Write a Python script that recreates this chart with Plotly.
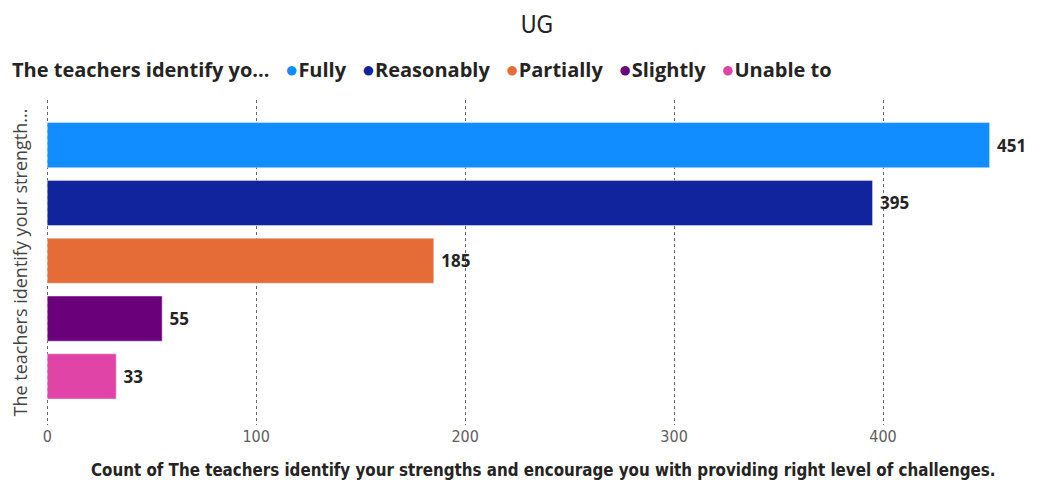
import plotly.graph_objects as go

levels = ["Fully", "Reasonably", "Partially", "Slightly", "Unable to"]
counts = [451, 395, 185, 55, 33]
colors = ["#118DFF", "#12239E", "#E66C37", "#6B007B", "#E044A7"]
x_ticks = [0, 100, 200, 300, 400]

cond = "DejaVu Sans Condensed"
x_title = "Count of The teachers identify your strengths and encourage you with providing right level of challenges."

fig = go.Figure()
for lvl, n, c in zip(levels, counts, colors):
    fig.add_trace(go.Bar(
        y=[lvl], x=[n], orientation="h", name=lvl,
        marker_color=c, texttemplate="&nbsp;<b>%{x}</b>", textposition="outside",
        textfont=dict(family="Open Sans", size=17, color="#252423"),
        cliponaxis=False, showlegend=False))

# legend drawn as one line of text so the spacing stays tight
legend_txt = "<b>The teachers identify yo...</b>&nbsp;&nbsp;&nbsp;" + "&nbsp;&nbsp;&nbsp;".join(
    f"<span style='color:{c};font-size:22px'>●</span><b>{l}</b>" for l, c in zip(levels, colors))

# page body adds an 8px margin, so the figure is drawn 8px smaller
fig.update_layout(
    width=1034, height=475,
    margin=dict(l=38, r=42, t=92, b=58, autoexpand=False),
    plot_bgcolor="white", paper_bgcolor="white",
    bargap=0.22,
    title=dict(text="UG", x=0.5116, xanchor="center", y=0.965, yanchor="middle",
               font=dict(family=cond, size=24, color="#252423")),
    annotations=[
        dict(text=legend_txt, xref="paper", yref="paper",
             x=-0.0377, y=1.098, xanchor="left", yanchor="middle",
             showarrow=False,
             font=dict(family="Open Sans", size=20, color="#252423")),
        dict(text=f"<b>{x_title}</b>", xref="paper", yref="paper",
             x=0.522, y=-0.138, xanchor="center", yanchor="middle",
             showarrow=False,
             font=dict(family=cond, size=16.8, color="#252423")),
    ],
    xaxis=dict(range=[-0.6, 456], tickvals=x_ticks, showgrid=True,
               gridcolor="#666666", griddash="dot", gridwidth=1,
               zeroline=False, ticks="", showline=False, automargin=False,
               tickfont=dict(family=cond, size=16, color="#605E5C")),
    yaxis=dict(range=[4.84, -0.78], showticklabels=False, showgrid=False,
               zeroline=False, automargin=False,
               title=dict(text="The teachers identify your strength...",
                          font=dict(family="Open Sans", size=18, color="#444444"),
                          standoff=16)),
)

fig.write_html("out.html")
